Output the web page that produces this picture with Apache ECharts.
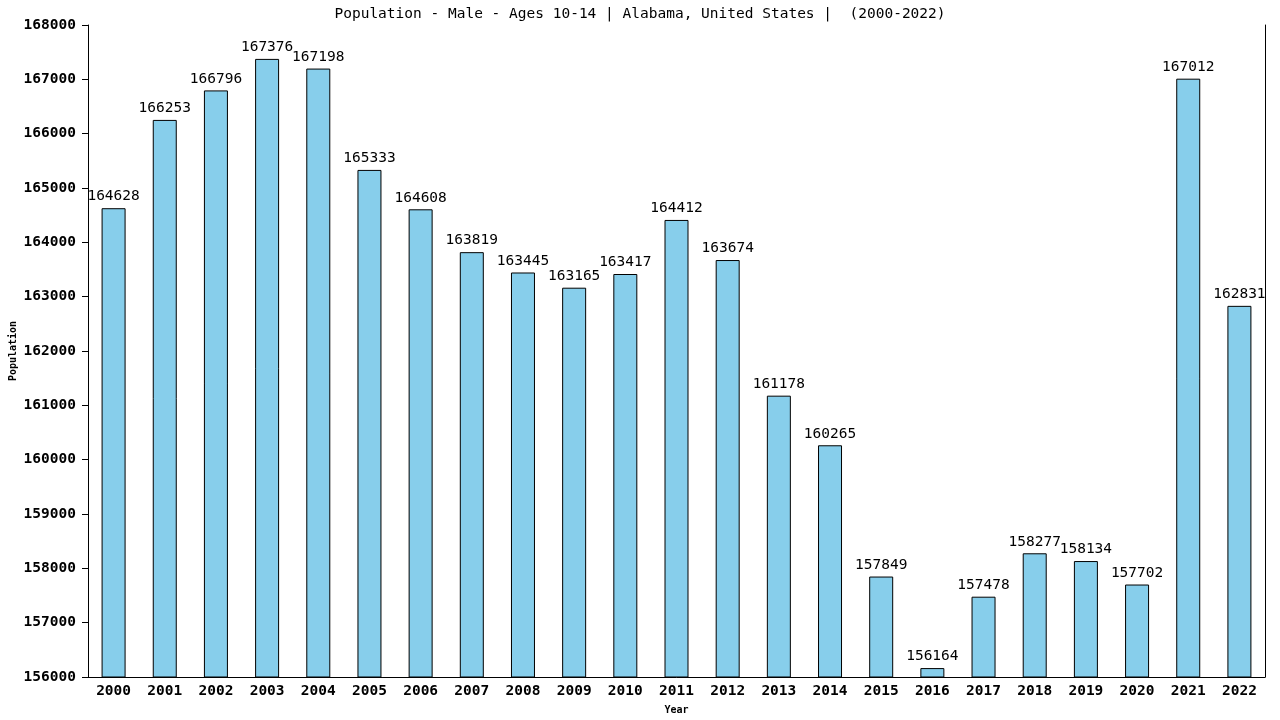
<!DOCTYPE html>
<html><head><meta charset="utf-8">
<script src="https://cdn.jsdelivr.net/npm/echarts@6/dist/echarts.min.js"></script>
<style>html,body{margin:0;padding:0;background:#fff}#c{width:1280px;height:720px}</style>
</head><body><div id="c"></div>
<script>
const years = ['2000','2001','2002','2003','2004','2005','2006','2007','2008','2009','2010','2011','2012','2013','2014','2015','2016','2017','2018','2019','2020','2021','2022'];
const population = [164628,166253,166796,167376,167198,165333,164608,163819,163445,163165,163417,164412,163674,161178,160265,157849,156164,157478,158277,158134,157702,167012,162831];
const yTicks = {min:156000, max:168000, interval:1000};
const FONT = '"DejaVu Sans Mono", monospace';
const chart = echarts.init(document.getElementById('c'));
chart.setOption({
  animation:false,
  title:{text:'Population - Male - Ages 10-14 | Alabama, United States |  (2000-2022)', left:'center', top:2,
    textStyle:{fontFamily:FONT, fontSize:14.5, fontWeight:'normal', color:'#000'}},
  grid:{left:88, right:15, top:25, bottom:43, containLabel:false, outerBoundsMode:'none'},
  xAxis:{type:'category', data:years, name:'Year', nameLocation:'middle', nameGap:28, nameMoveOverlap:false,
    nameTextStyle:{fontFamily:FONT, fontSize:10, fontWeight:'bold', color:'#000'},
    axisLine:{lineStyle:{color:'#000', width:1}}, axisTick:{show:false},
    axisLabel:{fontFamily:FONT, fontSize:14.5, fontWeight:'bold', color:'#000', margin:7}},
  yAxis:[{type:'value', min:yTicks.min, max:yTicks.max, interval:yTicks.interval, name:'Population',
    nameLocation:'middle', nameGap:70, nameRotate:90, nameMoveOverlap:false,
    nameTextStyle:{fontFamily:FONT, fontSize:10, fontWeight:'bold', color:'#000'},
    axisLine:{show:true, lineStyle:{color:'#000'}}, axisTick:{show:true, length:6, lineStyle:{color:'#000'}},
    splitLine:{show:false},
    axisLabel:{fontFamily:FONT, fontSize:14.5, fontWeight:'bold', color:'#000', margin:12, formatter:v=>String(v)}},
    {type:'value', position:'right', min:yTicks.min, max:yTicks.max, interval:yTicks.interval,
    axisLine:{show:true, lineStyle:{color:'#000'}}, axisTick:{show:false}, axisLabel:{show:false}, splitLine:{show:false}}],
  series:[{type:'bar', data:population, barWidth:24,
    itemStyle:{color:'#87CEEB', borderColor:'#000', borderWidth:1},
    label:{show:true, position:'top', distance:4, fontFamily:FONT, fontSize:14.5, color:'#000'}}]
});
</script></body></html>
